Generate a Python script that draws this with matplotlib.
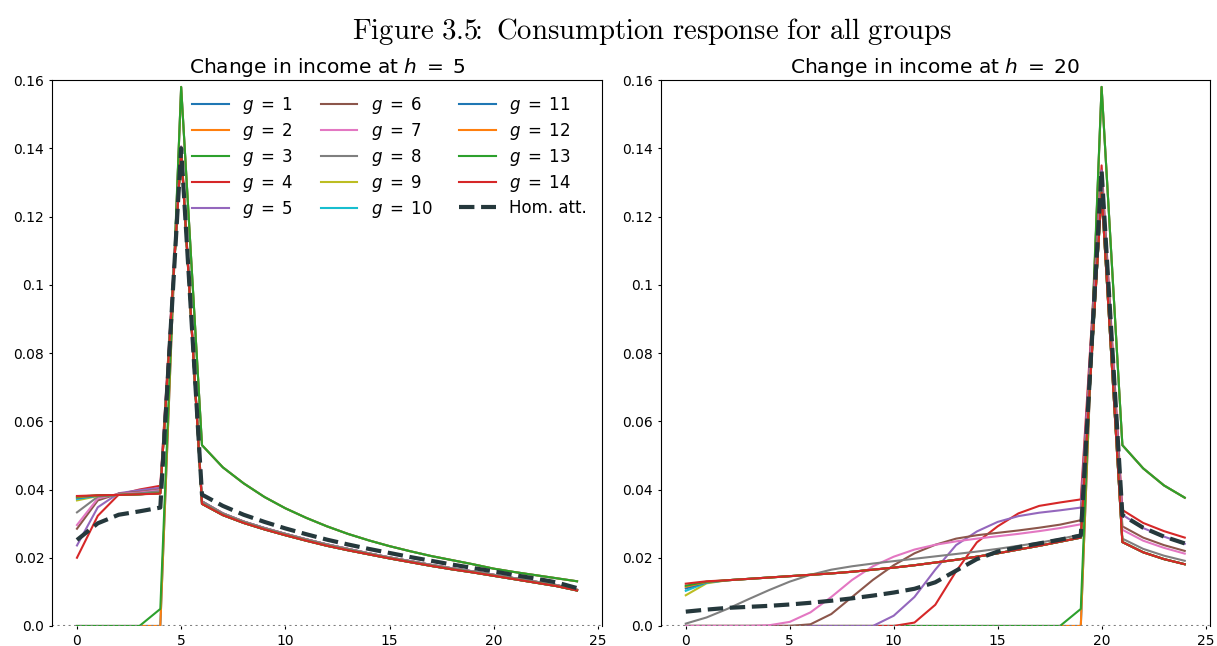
import numpy as np
import matplotlib
matplotlib.use("Agg")
import matplotlib.pyplot as plt
from matplotlib.font_manager import FontProperties

t = np.arange(25)
groups = [rf"$g \;=\; {g}$" for g in range(1, 15)]
hom_label = "Hom. att."
hom_color = "#25383c"

# ---- shock at h = 5 ----
# periods 0..4 before the shock, one row per group
left_pre = [
    [0, 0, 0, 0, 0],
    [0, 0, 0, 0, 0],
    [0, 0, 0, 0, 0.0050],
    [0.0200, 0.0323, 0.0385, 0.0400, 0.0411],
    [0.0236, 0.0348, 0.0389, 0.0398, 0.0405],
    [0.0285, 0.0368, 0.0388, 0.0393, 0.0400],
    [0.0296, 0.0374, 0.0387, 0.0391, 0.0398],
    [0.0333, 0.0379, 0.0385, 0.0389, 0.0395],
    [0.0368, 0.0381, 0.0384, 0.0386, 0.0390],
    [0.0372, 0.0382, 0.0384, 0.0386, 0.0390],
    [0.0375, 0.0382, 0.0384, 0.0386, 0.0390],
    [0.0377, 0.0383, 0.0384, 0.0386, 0.0389],
    [0.0379, 0.0383, 0.0384, 0.0386, 0.0389],
    [0.0381, 0.0383, 0.0384, 0.0386, 0.0388],
]
left_peak = [0.158, 0.158, 0.158, 0.1405, 0.1405, 0.1400, 0.1400,
             0.1398, 0.1395, 0.1395, 0.1395, 0.1395, 0.1395, 0.1395]
# periods 6..24 after the shock
left_tail_constrained = [0.0530, 0.0465, 0.0418, 0.0378, 0.0345, 0.0317, 0.0292,
                         0.0270, 0.0251, 0.0234, 0.0219, 0.0205, 0.0193, 0.0181,
                         0.0168, 0.0158, 0.0149, 0.0140, 0.0131]
left_tail_mid = [0.0365, 0.0330, 0.0306, 0.0287, 0.0270, 0.0254, 0.0239, 0.0226,
                 0.0213, 0.0201, 0.0190, 0.0179, 0.0169, 0.0160, 0.0150, 0.0140,
                 0.0130, 0.0120, 0.0106]
left_tail_rich = [0.0358, 0.0325, 0.0302, 0.0283, 0.0266, 0.0250, 0.0235, 0.0222,
                  0.0210, 0.0198, 0.0187, 0.0176, 0.0166, 0.0157, 0.0147, 0.0137,
                  0.0127, 0.0117, 0.0104]
left_hom = [0.0252, 0.0301, 0.0326, 0.0336, 0.0347, 0.1400,
            0.0385, 0.0352, 0.0326, 0.0305, 0.0286, 0.0269, 0.0253, 0.0239,
            0.0226, 0.0214, 0.0202, 0.0191, 0.0180, 0.0170, 0.0160, 0.0149,
            0.0139, 0.0128, 0.0111]

# ---- shock at h = 20 ----
flat_start = [[0.0090, 0.0125], [0.0103, 0.0127], [0.0110, 0.0128],
              [0.0115, 0.0129], [0.0118, 0.0130], [0.0124, 0.0131]]
flat_rest = [0.0134, 0.0138, 0.0142, 0.0146, 0.0150, 0.0154, 0.0159, 0.0165,
             0.0171, 0.0178, 0.0186, 0.0194, 0.0203, 0.0213, 0.0224, 0.0235,
             0.0247, 0.0259]
# periods 0..19 for groups 1-8
right_pre = [
    [0] * 20,
    [0] * 20,
    [0] * 19 + [0.0050],
    [0] * 11 + [0.0010, 0.0062, 0.0160, 0.0245, 0.0292, 0.0330, 0.0352, 0.0362, 0.0371],
    [0] * 10 + [0.0030, 0.0085, 0.0165, 0.0237, 0.0277, 0.0305, 0.0322, 0.0332,
                0.0339, 0.0347],
    [0] * 6 + [0.0005, 0.0035, 0.0085, 0.0135, 0.0178, 0.0213, 0.0238, 0.0256,
               0.0266, 0.0273, 0.0280, 0.0288, 0.0297, 0.0310],
    [0] * 4 + [0.0002, 0.0012, 0.0040, 0.0085, 0.0135, 0.0175, 0.0203, 0.0224,
               0.0238, 0.0248, 0.0256, 0.0263, 0.0270, 0.0278, 0.0287, 0.0298],
    [0.0007, 0.0025, 0.0050, 0.0078, 0.0105, 0.0130, 0.0150, 0.0165, 0.0175,
     0.0183, 0.0190, 0.0197, 0.0204, 0.0211, 0.0218, 0.0226, 0.0235, 0.0244,
     0.0255, 0.0268],
]
right_peak = [0.158, 0.158, 0.158, 0.1350, 0.1335, 0.1315, 0.1300,
              0.1285, 0.1270, 0.1270, 0.1270, 0.1270, 0.1270, 0.1270]
# periods 21..24
right_tail = [
    [0.0530, 0.0462, 0.0412, 0.0376],
    [0.0530, 0.0462, 0.0412, 0.0376],
    [0.0530, 0.0462, 0.0412, 0.0376],
    [0.0340, 0.0302, 0.0278, 0.0259],
    [0.0326, 0.0287, 0.0262, 0.0241],
    [0.0292, 0.0259, 0.0237, 0.0220],
    [0.0282, 0.0250, 0.0229, 0.0212],
    [0.0256, 0.0226, 0.0206, 0.0191],
] + [[0.0246, 0.0216, 0.0196, 0.0181]] * 6
right_hom = [0.0042, 0.0048, 0.0053, 0.0056, 0.0059, 0.0063, 0.0068, 0.0074,
             0.0081, 0.0089, 0.0098, 0.0109, 0.0128, 0.0162, 0.0196, 0.0218,
             0.0231, 0.0242, 0.0253, 0.0265, 0.1335,
             0.0325, 0.0288, 0.0262, 0.0242]

# assemble the full paths
left_series = []
for i in range(14):
    if i < 3:
        tail = left_tail_constrained
    elif i < 8:
        tail = left_tail_mid
    else:
        tail = left_tail_rich
    left_series.append(left_pre[i] + [left_peak[i]] + tail)

right_series = []
for i in range(14):
    pre = right_pre[i] if i < 8 else flat_start[i - 8] + flat_rest
    right_series.append(pre + [right_peak[i]] + right_tail[i])

yticks = [0.0, 0.02, 0.04, 0.06, 0.08, 0.1, 0.12, 0.14, 0.16]

fig = plt.figure(figsize=(12.17, 6.46), dpi=100)
ax1 = fig.add_axes([0.0427, 0.031, 0.452, 0.845])
ax2 = fig.add_axes([0.543, 0.031, 0.451, 0.845])

for ax, series, hom, h in [(ax1, left_series, left_hom, 5),
                           (ax2, right_series, right_hom, 20)]:
    for i, s in enumerate(series):
        ax.plot(t, s, color=f"C{i % 10}", lw=1.5, label=groups[i])
    ax.plot(t, hom, color=hom_color, lw=3, ls="--", label=hom_label)
    ax.axhline(0, color="gray", ls=":", lw=1.5)
    ax.spines["bottom"].set_visible(False)
    ax.set_ylim(0, 0.16)
    ax.set_xticks([0, 5, 10, 15, 20, 25])
    ax.set_yticks(yticks)
    ax.set_yticklabels([str(v) for v in yticks])
    ax.tick_params(labelsize=10, length=2.5, pad=3)
    ax.set_title(rf"Change in income at $h \;=\; {h}$", fontsize=14.5, pad=5)

ax1.legend(ncol=3, frameon=False, fontsize=12, loc="upper right",
           columnspacing=1.6, labelspacing=0.3, handlelength=2.2)

# Computer Modern look for the figure caption
with plt.rc_context({"mathtext.fontset": "cm"}):
    cap_font = FontProperties(size=20.7)
fig.suptitle(r"$\mathrm{Figure\ 3.5}\!\!:\ \mathrm{Consumption\ response\ for\ all\ groups}$",
             x=0.536, y=0.975, fontproperties=cap_font)

fig.savefig("out.png", dpi=100)
